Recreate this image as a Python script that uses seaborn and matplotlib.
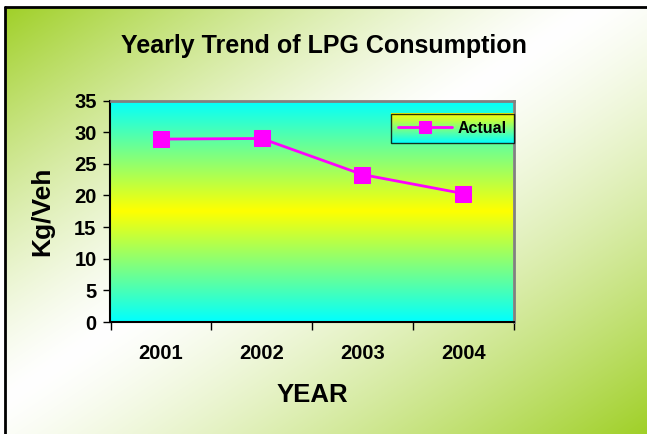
import numpy as np
import pandas as pd
import matplotlib
matplotlib.use("Agg")
import matplotlib.pyplot as plt
from matplotlib.lines import Line2D
import seaborn as sns

# ---- data ----
years = ["2001", "2002", "2003", "2004"]
actual = [28.9, 29.0, 23.3, 20.3]
series_name = "Actual"
title_text = "Yearly Trend of LPG Consumption"
xlabel_text = "YEAR"
ylabel_text = "Kg/Veh"
yticks = [0, 5, 10, 15, 20, 25, 30, 35]

df = pd.DataFrame({"year": years, "value": actual})

sns.set_theme(style="white")
plt.rcParams["font.family"] = ["Liberation Sans", "DejaVu Sans"]
plt.rcParams["font.weight"] = "bold"
plt.rcParams["text.color"] = "black"
plt.rcParams["axes.labelcolor"] = "black"
plt.rcParams["xtick.color"] = "black"
plt.rcParams["ytick.color"] = "black"

W, H = 647, 434
fig = plt.figure(figsize=(W / 100, H / 100), dpi=100)

# ---- figure background: diagonal green / white gradient ----
bg = fig.add_axes([0, 0, 1, 1], zorder=-10)
bg.set_axis_off()
u = np.linspace(0, 1, 500)[None, :]
v = np.linspace(0, 1, 350)[:, None]
ssum = u + v
c = 0.92
t = np.where(ssum < c, (c - ssum) / c, (ssum - c) / (2 - c))
t = np.clip(t, 0, 1) ** 1.3
green = np.array([160, 208, 40]) / 255.0
white = np.array([1.0, 1.0, 1.0])
img = white[None, None, :] * (1 - t[..., None]) + green[None, None, :] * t[..., None]
x0, y0 = 5 / W, 1 - 7 / H
bg.imshow(img, extent=(x0, 1, 0, y0), aspect="auto", transform=bg.transAxes, interpolation="bilinear")
bg.set_xlim(0, 1)
bg.set_ylim(0, 1)
bg.add_line(Line2D([x0, x0], [0, y0], transform=bg.transAxes, color="black", lw=2))
bg.add_line(Line2D([x0, 1], [y0, y0], transform=bg.transAxes, color="black", lw=2))

# ---- main axes ----
left, right = 110.5 / W, 513.5 / W
bottom, top = 1 - 322 / H, 1 - 100.5 / H
ax = fig.add_axes([left, bottom, right - left, top - bottom])
ax.set_facecolor("none")

# plot-area gradient cyan - yellow - cyan
gv = np.linspace(0, 1, 256)[:, None]
s = np.clip(1 - np.abs(gv - 0.5) / 0.5, 0, 1)
cyan = np.array([0, 1, 1.0])
yellow = np.array([1, 1, 0.0])
pimg = cyan[None, None, :] * (1 - s[..., None]) + yellow[None, None, :] * s[..., None]
pimg = np.repeat(pimg, 4, axis=1)
ax.imshow(pimg, extent=(0, 1, 0, 1), transform=ax.transAxes, aspect="auto", zorder=0.5,
          interpolation="bilinear")

sns.lineplot(data=df, x="year", y="value", ax=ax, color="#FF00FF", lw=2, marker="s",
             markersize=11, markeredgecolor="#FF00FF", label=series_name, sort=False, zorder=3)

ax.set_xlim(-0.5, 3.5)
ax.set_ylim(0, 35)
ax.set_yticks(yticks)
ax.set_yticklabels([str(v) for v in yticks], fontsize=14.5, fontweight="bold")
ax.set_xticks([-0.5, 0.5, 1.5, 2.5, 3.5])
ax.set_xticklabels([])
ax.set_xticks(range(len(years)), minor=True)
ax.set_xticklabels(years, minor=True, fontsize=14.5, fontweight="bold")
ax.tick_params(axis="x", which="major", direction="out", length=6, width=1, color="black", bottom=True)
ax.tick_params(axis="x", which="minor", length=0, pad=16)
ax.tick_params(axis="y", direction="out", length=5, width=1, color="black", left=True, pad=5)
ax.grid(False)

for side in ["left", "bottom"]:
    ax.spines[side].set_color("black")
    ax.spines[side].set_linewidth(1.5)
for side in ["top", "right"]:
    ax.spines[side].set_color("#808080")
    ax.spines[side].set_linewidth(2)

ax.set_xlabel(xlabel_text, fontsize=18.5, fontweight="bold", labelpad=14)
ax.set_ylabel(ylabel_text, fontsize=19, fontweight="bold", labelpad=14)

fig.suptitle(title_text, x=0.5, y=1 - 46 / H, va="center", fontsize=18, fontweight="bold")

# legend with gradient background
leg = ax.legend(loc="upper right", bbox_to_anchor=(1.0, 0.94), frameon=True, fancybox=False,
                handlelength=3.4, prop={"size": 11.5, "weight": "bold"}, borderaxespad=0,
                borderpad=0.45, handletextpad=0.3, markerscale=0.85)
leg.get_frame().set_facecolor("none")
leg.get_frame().set_edgecolor("black")
leg.get_frame().set_linewidth(1)
fig.canvas.draw()
bb = leg.get_frame().get_window_extent().transformed(ax.transAxes.inverted())
limg = yellow[None, None, :] * (1 - gv[..., None]) + cyan[None, None, :] * gv[..., None]
limg = np.repeat(limg, 4, axis=1)
ax.imshow(limg, extent=(bb.x0, bb.x1, bb.y0, bb.y1), transform=ax.transAxes, aspect="auto",
          zorder=4.5, interpolation="bilinear")
ax.set_xlim(-0.5, 3.5)
ax.set_ylim(0, 35)

fig.savefig("out.png", dpi=100)
